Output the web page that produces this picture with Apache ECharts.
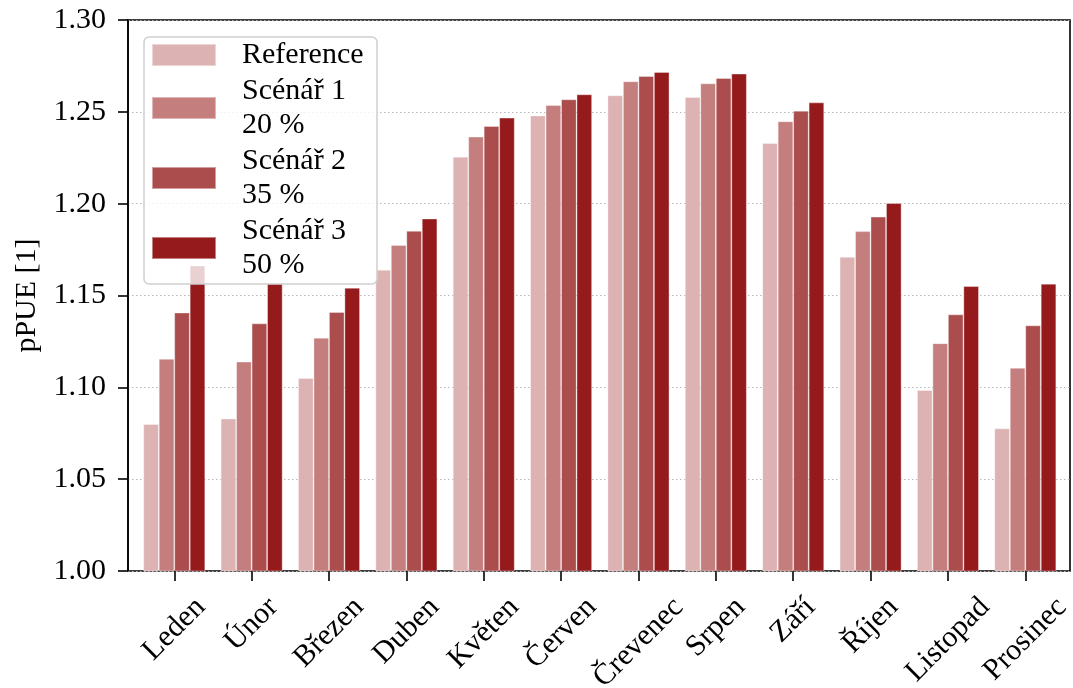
<!DOCTYPE html>
<html>
<head>
<meta charset="utf-8">
<script src="https://cdn.jsdelivr.net/npm/echarts@6/dist/echarts.min.js"></script>
<style>
  html, body { margin: 0; padding: 0; background: #fff; }
  #chart { width: 1073px; height: 688px; }
</style>
</head>
<body>
<div id="chart"></div>
<script>
// Monthly pPUE for the reference case and three scenarios
const months = ['Leden', 'Únor', 'Březen', 'Duben', 'Květen', 'Červen',
                'Črevenec', 'Srpen', 'Září', 'Říjen', 'Listopad', 'Prosinec'];
const seriesNames = ['Reference', 'Scénář 1\n20 %', 'Scénář 2\n35 %', 'Scénář 3\n50 %'];
const reference = [1.080, 1.083, 1.105, 1.164, 1.2255, 1.248, 1.259, 1.258, 1.233, 1.171, 1.0985, 1.0776];
const scenario1 = [1.1155, 1.114, 1.127, 1.1775, 1.2365, 1.2537, 1.2666, 1.2655, 1.2448, 1.185, 1.124, 1.1106];
const scenario2 = [1.1407, 1.1348, 1.141, 1.1852, 1.2423, 1.2568, 1.2695, 1.2684, 1.2506, 1.1929, 1.1397, 1.1337];
const scenario3 = [1.1663, 1.1565, 1.1542, 1.1919, 1.2468, 1.2595, 1.2717, 1.2708, 1.2551, 1.2003, 1.1551, 1.1564];
const yTicks = { min: 1.00, max: 1.30, step: 0.05 };

const colors = ['#dcb2b2', '#c37e7d', '#ab4d4d', '#951a1c'];
const FONT = "'Liberation Serif', 'Times New Roman', serif";
const FS = 30;
const LINE_H = 33;

const allValues = [reference, scenario1, scenario2, scenario3];

// Month labels are rotated 45° and centred under their tick, with the top of the
// rotated box at a fixed distance below the axis. The label is anchored at its own
// centre, so each one gets right/top padding of (width + height) / 2 to push it down.
const ctx = document.createElement('canvas').getContext('2d');
ctx.font = FS + 'px ' + FONT;
const monthRich = {};
months.forEach((m, i) => {
  const w = ctx.measureText(m).width;
  const shift = (w + LINE_H) / 2;
  monthRich['m' + i] = {
    fontFamily: FONT, fontSize: FS, color: '#000', lineHeight: LINE_H,
    padding: [shift, shift, 0, 0]
  };
});

const chart = echarts.init(document.getElementById('chart'), null, { renderer: 'canvas' });

const option = {
  animation: false,
  backgroundColor: '#ffffff',
  textStyle: { fontFamily: FONT },
  grid: [
    // frame + y axis
    { left: 128, right: 3, top: 20, bottom: 117, show: true, outerBoundsMode: 'none',
      borderColor: '#000', borderWidth: 1.6, backgroundColor: 'transparent' },
    // bars; category bands are a bit wider than the frame margins
    { left: 135.6, right: 9, top: 20, bottom: 117, outerBoundsMode: 'none' }
  ],
  xAxis: [
    { type: 'value', gridIndex: 0, min: 0, max: 1, show: false },
    { type: 'category', gridIndex: 1, data: months,
      axisLine: { show: false },
      axisTick: { show: true, alignWithLabel: true, length: 10, lineStyle: { color: '#000', width: 1.6 } },
      axisLabel: {
        rotate: 45, margin: 20, interval: 0, hideOverlap: false,
        align: 'center', verticalAlign: 'middle',
        formatter: (v, i) => '{m' + i + '|' + v + '}',
        rich: monthRich
      } }
  ],
  yAxis: [
    { type: 'value', gridIndex: 0, min: yTicks.min, max: yTicks.max, interval: yTicks.step,
      name: 'pPUE [1]', nameLocation: 'middle', nameGap: 86,
      nameTextStyle: { color: '#000', fontFamily: FONT, fontSize: FS },
      axisLine: { show: true, lineStyle: { color: '#000', width: 1.6 } },
      axisTick: { show: true, length: 10, lineStyle: { color: '#000', width: 1.6 } },
      axisLabel: { color: '#000', fontFamily: FONT, fontSize: FS, margin: 22,
                   formatter: v => v.toFixed(2) },
      splitLine: { show: true, lineStyle: { color: '#b8b8b8', width: 1, type: [1.5, 2.5] } } },
    { type: 'value', gridIndex: 1, min: yTicks.min, max: yTicks.max, show: false }
  ],
  legend: {
    orient: 'vertical',
    left: 151,
    top: 38,
    padding: 0,
    itemWidth: 64,
    itemHeight: 22,
    itemGap: 2,
    icon: 'rect',
    data: seriesNames,
    textStyle: {
      color: '#000', fontFamily: FONT, fontSize: FS, lineHeight: 34,
      padding: [0, 0, 0, 21]
    },
    z: 10
  },
  graphic: [
    { type: 'rect', z: 5, shape: { x: 144, y: 37, width: 233, height: 247, r: 5 },
      style: { fill: 'rgba(255,255,255,0.8)', stroke: '#cfcfcf', lineWidth: 1.5 } }
  ],
  series: seriesNames.map((name, i) => ({
    name,
    type: 'bar',
    xAxisIndex: 1,
    yAxisIndex: 1,
    data: allValues[i],
    barGap: '0%',
    barCategoryGap: '20%',
    itemStyle: { color: colors[i], borderColor: 'rgba(255,255,255,0.45)', borderWidth: 0.8 },
    z: 2
  }))
};

chart.setOption(option);
</script>
</body>
</html>
